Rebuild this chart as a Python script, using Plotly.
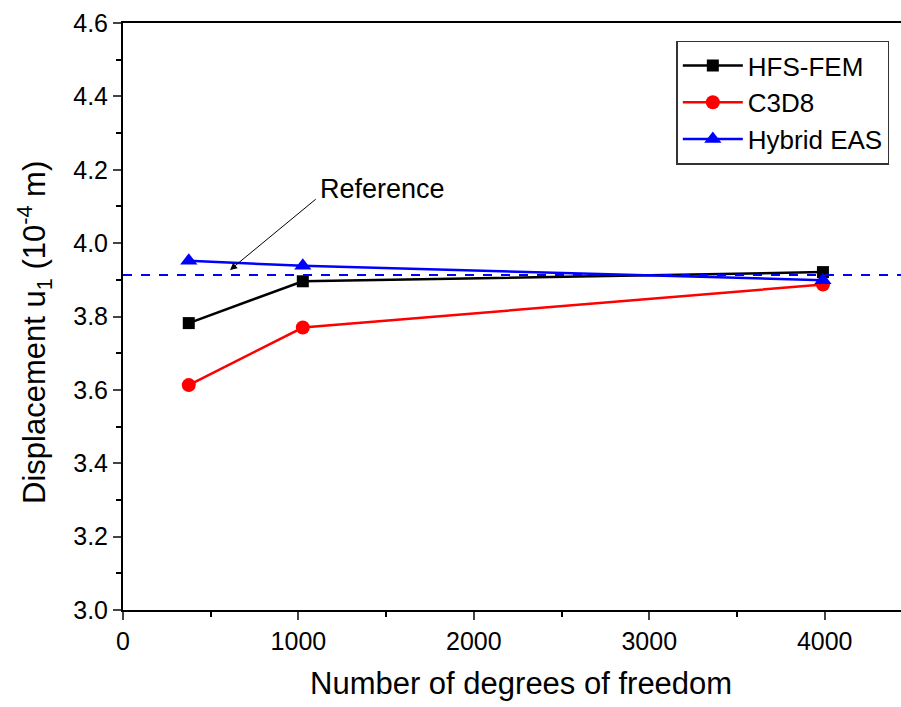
import plotly.graph_objects as go

dof = [375, 1025, 3990]
hfs_fem = [3.782, 3.896, 3.921]
c3d8 = [3.613, 3.770, 3.887]
hybrid_eas = [3.952, 3.938, 3.899]
reference = 3.913

x_ticks = [0, 1000, 2000, 3000, 4000]
y_ticks = [3.0, 3.2, 3.4, 3.6, 3.8, 4.0, 4.2, 4.4, 4.6]

FONT = "Liberation Sans, Arial, sans-serif"

fig = go.Figure()
fig.add_trace(go.Scatter(x=dof, y=hfs_fem, mode="lines+markers", name="HFS-FEM",
                         line=dict(color="black", width=2.5),
                         marker=dict(symbol="square", size=12, color="black")))
fig.add_trace(go.Scatter(x=dof, y=c3d8, mode="lines+markers", name="C3D8",
                         line=dict(color="#ff0000", width=2.5),
                         marker=dict(symbol="circle", size=14, color="#ff0000")))
fig.add_trace(go.Scatter(x=dof, y=hybrid_eas, mode="lines+markers", name="Hybrid EAS",
                         line=dict(color="#0000ff", width=2.5),
                         marker=dict(symbol="triangle-up", size=15, color="#0000ff")))

fig.add_shape(type="line", xref="paper", yref="y", x0=0, x1=1, y0=reference, y1=reference,
              line=dict(color="#0000ff", width=2, dash="dash"))

fig.add_annotation(x=610, y=3.927, ax=1107, ay=4.123, xref="x", yref="y",
                   axref="x", ayref="y", text="", showarrow=True, arrowhead=2,
                   arrowsize=1.4, arrowwidth=1, arrowcolor="black")
fig.add_annotation(x=1113, y=4.148, xref="x", yref="y", text="Reference", showarrow=False,
                   xanchor="left", yanchor="middle", font=dict(size=27, color="black", family=FONT))

# axis titles
fig.add_annotation(x=0.5116, y=-0.1244, xref="paper", yref="paper",
                   text="Number of degrees of freedom", showarrow=False,
                   xanchor="center", yanchor="middle", font=dict(size=31, family=FONT))
fig.add_annotation(x=-0.1131, y=0.472, xref="paper", yref="paper", textangle=-90,
                   text="Displacement u<sub>1</sub> (10<sup>-4</sup> m)", showarrow=False,
                   xanchor="center", yanchor="middle", font=dict(size=31, family=FONT))

fig.update_layout(
    width=901, height=707,
    margin=dict(l=123, r=0, t=23, b=97),
    paper_bgcolor="white", plot_bgcolor="white",
    font=dict(family=FONT, color="black"),
    showlegend=True,
    legend=dict(x=0.985, y=0.97, xanchor="right", yanchor="top",
                bordercolor="#333333", borderwidth=1.5, bgcolor="white",
                font=dict(size=26, family=FONT), itemwidth=60, tracegroupgap=0),
)
fig.update_xaxes(range=[0, 4435], tickvals=x_ticks, ticks="outside", ticklen=8, tickwidth=2,
                 showline=True, linewidth=2, linecolor="black", mirror=True, showgrid=False,
                 zeroline=False, tickfont=dict(size=25),
                 minor=dict(dtick=500, ticks="outside", ticklen=5, tickwidth=2, tickcolor="black"))
fig.update_yaxes(range=[3.0, 4.6], tickvals=y_ticks, tickformat=".1f", ticks="outside", ticklen=8,
                 tickwidth=2, showline=True, linewidth=2, linecolor="black", showgrid=False,
                 zeroline=False, tickfont=dict(size=25),
                 minor=dict(dtick=0.1, ticks="outside", ticklen=5, tickwidth=2, tickcolor="black"))

fig.write_html("out.html", config={"displayModeBar": False},
               post_script="document.body.style.margin='0';document.body.style.overflow='hidden';")
